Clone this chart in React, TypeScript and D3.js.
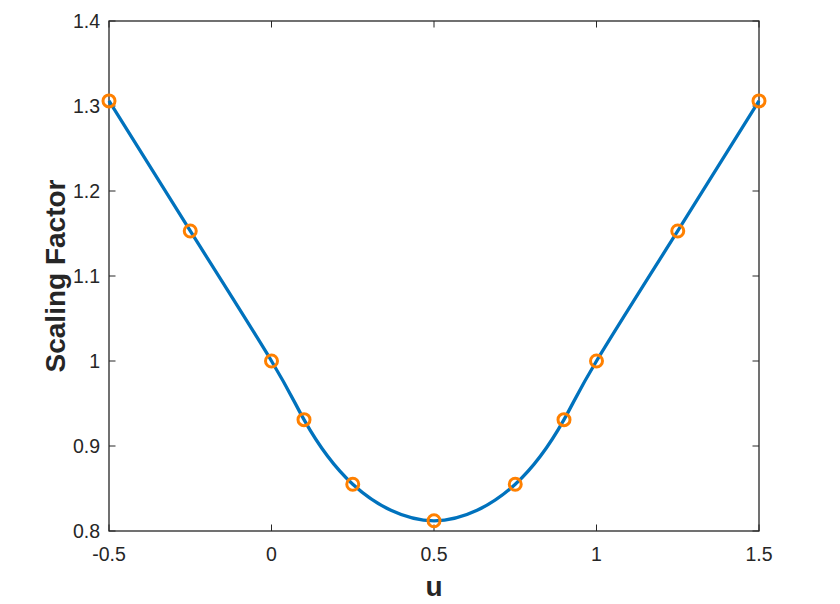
import React, { useEffect, useRef } from 'react';
import * as d3 from 'd3';

// marker samples of the scaling factor
const uValues = [-0.5, -0.25, 0, 0.1, 0.25, 0.5, 0.75, 0.9, 1, 1.25, 1.5];
const scaleValues = [1.306, 1.153, 1.0, 0.931, 0.855, 0.812, 0.855, 0.931, 1.0, 1.153, 1.306];
const xTicks = [-0.5, 0, 0.5, 1, 1.5];
const yTicks = [0.8, 0.9, 1, 1.1, 1.2, 1.3, 1.4];

const W = 840;
const H = 604;
const margin = { left: 109, right: 81, top: 21, bottom: 73 };

export default function App() {
  const ref = useRef<SVGSVGElement>(null);

  useEffect(() => {
    const svg = d3.select(ref.current);
    svg.selectAll('*').remove();

    const x = d3.scaleLinear().domain([-0.5, 1.5]).range([margin.left, W - margin.right]);
    const y = d3.scaleLinear().domain([0.8, 1.4]).range([H - margin.bottom, margin.top]);
    const axisColor = '#262626';
    const font = 'Arial, "Liberation Sans", Helvetica, sans-serif';

    const x0 = x.range()[0], x1 = x.range()[1];
    const y0 = y.range()[0], y1 = y.range()[1];

    svg.append('rect').attr('width', W).attr('height', H).attr('fill', '#fff');

    // box
    svg.append('rect')
      .attr('x', x0).attr('y', y1)
      .attr('width', x1 - x0).attr('height', y0 - y1)
      .attr('fill', 'none').attr('stroke', axisColor).attr('stroke-width', 1.3);

    const tl = 6.5;
    // x ticks (bottom and top, inward)
    xTicks.forEach(t => {
      svg.append('line').attr('x1', x(t)).attr('x2', x(t)).attr('y1', y0).attr('y2', y0 - tl)
        .attr('stroke', axisColor);
      svg.append('line').attr('x1', x(t)).attr('x2', x(t)).attr('y1', y1).attr('y2', y1 + tl)
        .attr('stroke', axisColor);
      svg.append('text').attr('x', x(t)).attr('y', 561)
        .attr('text-anchor', 'middle').attr('font-family', font).attr('font-size', 19.5)
        .attr('fill', axisColor).text(String(t));
    });
    // y ticks
    yTicks.forEach(t => {
      svg.append('line').attr('x1', x0).attr('x2', x0 + tl).attr('y1', y(t)).attr('y2', y(t))
        .attr('stroke', axisColor);
      svg.append('line').attr('x1', x1).attr('x2', x1 - tl).attr('y1', y(t)).attr('y2', y(t))
        .attr('stroke', axisColor);
      svg.append('text').attr('x', 100).attr('y', y(t)).attr('dy', '0.36em')
        .attr('text-anchor', 'end').attr('font-family', font).attr('font-size', 19.5)
        .attr('fill', axisColor).text(String(t));
    });

    // curve
    const pts: [number, number][] = uValues.map((u, i) => [u, scaleValues[i]]);
    const line = d3.line<[number, number]>()
      .x(d => x(d[0])).y(d => y(d[1]))
      .curve(d3.curveNatural);
    svg.append('path').datum(pts).attr('d', line)
      .attr('fill', 'none').attr('stroke', '#0072BD').attr('stroke-width', 3.3);

    // markers
    svg.selectAll('circle.m').data(pts).enter()
      .append('circle').attr('class', 'm')
      .attr('cx', d => x(d[0])).attr('cy', d => y(d[1])).attr('r', 6)
      .attr('fill', 'none').attr('stroke', '#FF8000').attr('stroke-width', 3);

    // labels
    svg.append('text').attr('x', (x0 + x1) / 2).attr('y', 596)
      .attr('text-anchor', 'middle').attr('font-family', font).attr('font-size', 28)
      .attr('font-weight', 'bold').attr('fill', axisColor).text('u');
    svg.append('text')
      .attr('transform', `translate(65,${(y0 + y1) / 2}) rotate(-90)`)
      .attr('text-anchor', 'middle').attr('font-family', font).attr('font-size', 28)
      .attr('font-weight', 'bold').attr('fill', axisColor).text('Scaling Factor');
  }, []);

  return (
    <svg ref={ref} width={W} height={H} style={{ position: 'absolute', left: 0, top: 0 }} />
  );
}
